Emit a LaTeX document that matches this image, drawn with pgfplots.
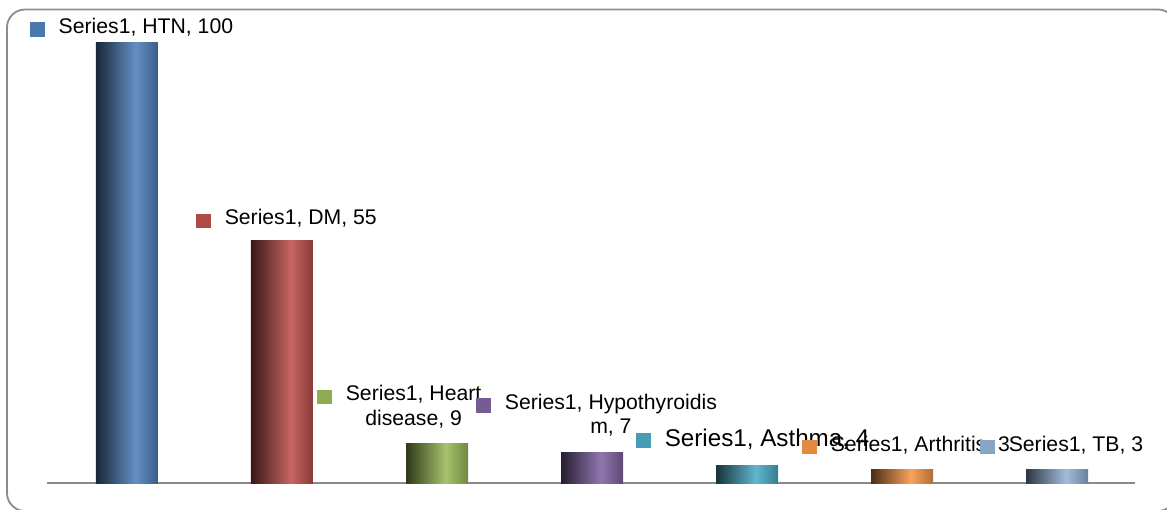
\documentclass[border=0pt]{standalone}
\usepackage{fontspec}
\setmainfont{Liberation Sans}
\usepackage{pgfplots}
\pgfplotsset{compat=1.18}

\newcommand{\cyl}[2]{%
  \definecolor{#1}{HTML}{#2}%
  \colorlet{#1L}{#1!30!black}%
  \colorlet{#1M}{#1!88!white}%
  \colorlet{#1R}{#1!72!black}%
  \colorlet{#1K}{#1!92!black}%
  \pgfdeclarehorizontalshading{#1shade}{100bp}{color(0bp)=(#1L); color(25bp)=(#1L); color(57bp)=(#1M); color(75bp)=(#1R); color(100bp)=(#1R)}}
\cyl{cA}{4F81BD}
\cyl{cB}{C0504D}
\cyl{cC}{9BBB59}
\cyl{cD}{8064A2}
\cyl{cE}{4BACC6}
\cyl{cF}{F79646}
\cyl{cG}{95B3D7}

\newcommand{\mk}[2][1.7pt]{\textcolor{#2K}{\raisebox{-#1}{\rule{7.2pt}{7.2pt}}}\hspace{7pt}}
\newcommand{\lbl}{\fontsize{10.6pt}{12.2pt}\selectfont}
\newcommand{\lblbig}{\fontsize{12.1pt}{14pt}\selectfont}

\begin{document}
\begin{tikzpicture}
\path[use as bounding box] (0,0) rectangle (583.5pt,254.5pt);
\begin{scope}
\clip (0,0) rectangle (583.5pt,254.5pt);
\draw[black!45, line width=0.9pt, rounded corners=9pt] (3.5pt,-1pt) rectangle (588pt,249.75pt);
\end{scope}
\begin{axis}[
  at={(23.5pt,13pt)}, anchor=south west,
  scale only axis, width=544pt, height=220pt,
  xmin=-0.516, xmax=6.503, ymin=0, ymax=100,
  enlargelimits=false, clip=false,
  axis x line=bottom, axis y line=none,
  axis line style={-, draw=black!46, line width=1.25pt},
  xtick=\empty, ytick=\empty,
  every axis plot/.append style={ybar, bar width=31pt, bar shift=0pt, draw=none, shade},
]
\addplot[shading=cAshade] coordinates {(0,100)};
\addplot[shading=cBshade] coordinates {(1,55)};
\addplot[shading=cCshade] coordinates {(2,9)};
\addplot[shading=cDshade] coordinates {(3,7)};
\addplot[shading=cEshade] coordinates {(4,4)};
\addplot[shading=cFshade] coordinates {(5,3)};
\addplot[shading=cGshade] coordinates {(6,3)};

\node[anchor=base west, inner sep=0pt, font=\lbl] at (axis cs:-0.626,102.2) {\mk{cA}Series1, HTN, 100};
\node[anchor=base west, inner sep=0pt, font=\lbl] at (axis cs:0.445,58.64) {\mk{cB}Series1, DM, 55};
\node[anchor=base west, inner sep=0pt, font=\lbl] at (axis cs:1.226,18.7) {\mk{cC}\begin{tabular}[t]{@{}c@{}}Series1, Heart\\disease, 9\end{tabular}};
\node[anchor=base west, inner sep=0pt, font=\lbl] at (axis cs:2.252,16.75) {\mk{cD}\begin{tabular}[t]{@{}c@{}}Series1, Hypothyroidis\\m, 7\end{tabular}};
\node[anchor=base west, inner sep=0pt, font=\lblbig] at (axis cs:3.284,8.25) {\mk[0.5pt]{cE}Series1, Asthma, 4};
\node[anchor=base west, inner sep=0pt, font=\lbl] at (axis cs:4.355,7.11) {\mk[1.3pt]{cF}Series1, Arthritis, 3};
\node[anchor=base west, inner sep=0pt, font=\lbl] at (axis cs:5.503,7.11) {\mk[1.3pt]{cG}Series1, TB, 3};
\end{axis}
\end{tikzpicture}
\end{document}
